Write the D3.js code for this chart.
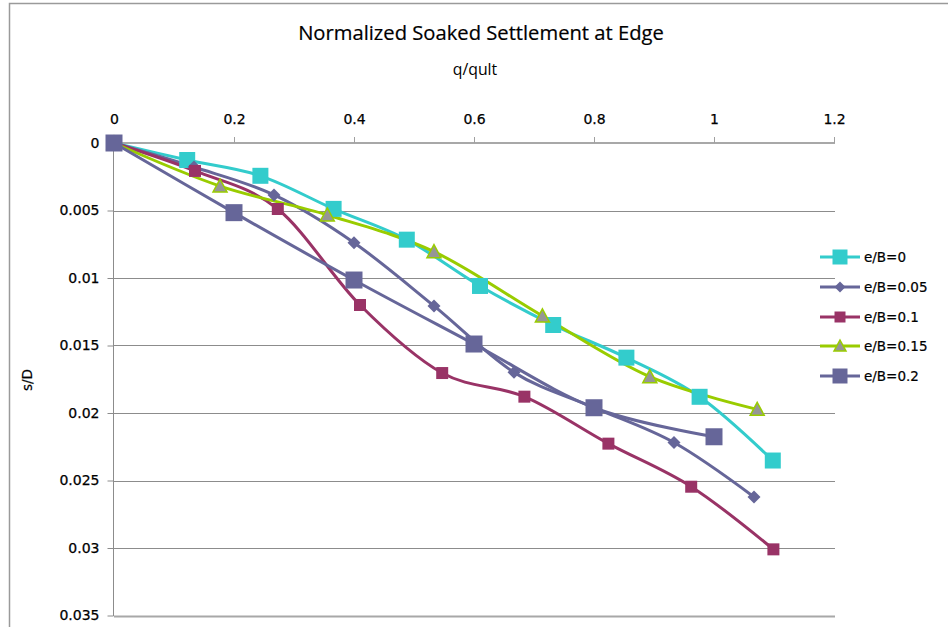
<!DOCTYPE html>
<html>
<head>
<meta charset="utf-8">
<script src="https://cdn.jsdelivr.net/npm/d3@7"></script>
<style>
  html, body { margin: 0; padding: 0; background: #fff; }
  svg { display: block; }
</style>
</head>
<body>
<svg id="chart" width="948" height="627"></svg>
<script>
// ---------- data ----------
const seriesNames = ["e/B=0", "e/B=0.05", "e/B=0.1", "e/B=0.15", "e/B=0.2"];

const x_eB0   = [0, 0.122, 0.244, 0.366, 0.488, 0.61, 0.732, 0.854, 0.976, 1.098];
const y_eB0   = [0, 0.00126, 0.00243, 0.00488, 0.00716, 0.01059, 0.01348, 0.0159, 0.0188, 0.02352];

const x_eB005 = [0, 0.1333, 0.2667, 0.4, 0.5333, 0.6667, 0.8, 0.9333, 1.0667];
const y_eB005 = [0, 0.00178, 0.00385, 0.00739, 0.01207, 0.01699, 0.0196, 0.02219, 0.02622];

const x_eB01  = [0, 0.135, 0.273, 0.41, 0.547, 0.684, 0.824, 0.962, 1.099];
const y_eB01  = [0, 0.00207, 0.00489, 0.012, 0.01704, 0.01879, 0.02227, 0.02546, 0.0301];

const x_eB015 = [0, 0.1767, 0.3555, 0.5333, 0.714, 0.893, 1.072];
const y_eB015 = [0, 0.00319, 0.00533, 0.00805, 0.01281, 0.01731, 0.01973];

const x_eB02  = [0, 0.2, 0.4, 0.6, 0.8, 1.0];
const y_eB02  = [0, 0.00516, 0.01015, 0.01489, 0.01961, 0.02176];

const xTicks = [0, 0.2, 0.4, 0.6, 0.8, 1, 1.2];
const yTicks = [0, 0.005, 0.01, 0.015, 0.02, 0.025, 0.03, 0.035];
const xTickLabels = ["0", "0.2", "0.4", "0.6", "0.8", "1", "1.2"];
const yTickLabels = ["0", "0.005", "0.01", "0.015", "0.02", "0.025", "0.03", "0.035"];

const titleText = "Normalized Soaked Settlement at Edge";
const xTitle = "q/qult";
const yTitle = "s/D";

// ---------- styles ----------
const styles = [
  { line: "#33CCCC", shape: "square",   size: 16, fill: "#33CCCC", stroke: "none" },
  { line: "#666699", shape: "diamond",  size: 13, fill: "#666699", stroke: "none" },
  { line: "#993366", shape: "square",   size: 12, fill: "#993366", stroke: "none" },
  { line: "#99CC00", shape: "triangle", size: 14, fill: "#969696", stroke: "#99CC00" },
  { line: "#666699", shape: "square",   size: 17, fill: "#666699", stroke: "none" }
];

const xsArr = [x_eB0, x_eB005, x_eB01, x_eB015, x_eB02];
const ysArr = [y_eB0, y_eB005, y_eB01, y_eB015, y_eB02];
const series = seriesNames.map((n, i) => ({
  name: n, style: styles[i],
  pts: xsArr[i].map((x, j) => ({ x: x, y: ysArr[i][j] }))
}));

// ---------- layout ----------
const svg = d3.select("#chart");
const plot = { left: 114, right: 835, top: 143, bottom: 616 };
const xs = d3.scaleLinear().domain([0, 1.2]).range([plot.left, 834]);
const ys = d3.scaleLinear().domain([0, 0.035]).range([plot.top, 615.5]);

// chart border
svg.append("rect").attr("x", 9.5).attr("y", 3.5).attr("width", 1000).attr("height", 800)
  .attr("fill", "#fff").attr("stroke", "#9a9a9a").attr("stroke-width", 1.5);

// gridlines
svg.append("g").selectAll("line").data(yTicks.slice(1)).join("line")
  .attr("x1", plot.left).attr("x2", plot.right)
  .attr("y1", d => Math.round(ys(d)) + 0.5).attr("y2", d => Math.round(ys(d)) + 0.5)
  .attr("stroke", (d, i, a) => i === a.length - 1 ? "#a8a8a8" : "#8c8c8c")
  .attr("stroke-width", (d, i, a) => i === a.length - 1 ? 2 : 1);

const tickFont = sel => sel.attr("fill", "#000").attr("stroke", "#000").attr("stroke-width", 0.25)
  .style("font-family", "DejaVu Sans").style("font-size", "14px");

// x axis (top)
const xAxis = d3.axisTop(xs).tickValues(xTicks).tickSize(6).tickSizeOuter(0)
  .tickFormat((d, i) => xTickLabels[i]);
const gx = svg.append("g").attr("transform", `translate(0,${plot.top})`).call(xAxis);
gx.select(".domain").attr("stroke", "#a8a8a8").attr("stroke-width", 2)
  .attr("d", `M${plot.left},0H${plot.right}`);
gx.selectAll(".tick line").attr("stroke", "#a0a0a0");
gx.selectAll(".tick text").attr("y", -19).call(tickFont);

// y axis (left)
const yAxis = d3.axisLeft(ys).tickValues(yTicks).tickSize(6).tickSizeOuter(0)
  .tickFormat((d, i) => yTickLabels[i]);
const gy = svg.append("g").attr("transform", `translate(${plot.left - 0.5},0)`).call(yAxis);
gy.select(".domain").attr("stroke", "#8c8c8c").attr("stroke-width", 1)
  .attr("d", `M0,${plot.top}V${plot.bottom}`);
gy.selectAll(".tick line").attr("stroke", "#8c8c8c");
gy.selectAll(".tick text").attr("x", -14).call(tickFont);

// titles
svg.append("text").attr("x", 481).attr("y", 40).attr("text-anchor", "middle")
  .style("font-family", "Open Sans").style("font-size", "20.2px").attr("fill", "#000")
  .attr("stroke", "#000").attr("stroke-width", 0.2)
  .text(titleText);
svg.append("text").attr("x", 475).attr("y", 75).attr("text-anchor", "middle")
  .style("font-family", "Open Sans").style("font-size", "15.8px").attr("fill", "#000")
  .text(xTitle);
svg.append("text").attr("transform", "translate(32,380) rotate(-90)").attr("text-anchor", "middle")
  .style("font-family", "DejaVu Sans").style("font-size", "13.5px").attr("fill", "#000")
  .attr("stroke", "#000").attr("stroke-width", 0.2)
  .text(yTitle);

// marker drawing
function markerPath(shape, s) {
  const h = s / 2;
  if (shape === "square") return `M${-h},${-h}H${h}V${h}H${-h}Z`;
  if (shape === "diamond") return `M0,${-h}L${h},0L0,${h}L${-h},0Z`;
  if (shape === "triangle") return `M0,${-h}L${h},${h * 0.85}L${-h},${h * 0.85}Z`;
}

const lineGen = d3.line().x(d => xs(d.x)).y(d => ys(d.y)).curve(d3.curveCatmullRom.alpha(0));

// lines first
svg.append("g").selectAll("path").data(series).join("path")
  .attr("d", d => lineGen(d.pts)).attr("fill", "none")
  .attr("stroke", d => d.style.line).attr("stroke-width", 3)
  .attr("stroke-linejoin", "round").attr("stroke-linecap", "round");

// markers
series.forEach(s => {
  svg.append("g").selectAll("path").data(s.pts).join("path")
    .attr("transform", d => `translate(${xs(d.x)},${ys(d.y)})`)
    .attr("d", markerPath(s.style.shape, s.style.size))
    .attr("fill", s.style.fill)
    .attr("stroke", s.style.stroke).attr("stroke-width", 1.5);
});

// legend
const legendY = [257, 287, 317, 346, 376];
const lg = svg.append("g");
series.forEach((s, i) => {
  const g = lg.append("g").attr("transform", `translate(0,${legendY[i]})`);
  g.append("line").attr("x1", 820).attr("x2", 860).attr("y1", 0).attr("y2", 0)
    .attr("stroke", s.style.line).attr("stroke-width", 3);
  const legSize = s.style.shape === "square" ? (s.style.size >= 16 ? 15 : 11) : (s.style.shape === "diamond" ? 11 : 12);
  g.append("path").attr("transform", "translate(840,0)")
    .attr("d", markerPath(s.style.shape, legSize))
    .attr("fill", s.style.fill).attr("stroke", s.style.stroke).attr("stroke-width", 1.5);
  g.append("text").attr("x", 864).attr("y", 0).attr("dy", "0.36em")
    .attr("stroke", "#000").attr("stroke-width", 0.2)
    .style("font-family", "DejaVu Sans").style("font-size", "13.5px").attr("fill", "#000")
    .text(s.name);
});
</script>
</body>
</html>
